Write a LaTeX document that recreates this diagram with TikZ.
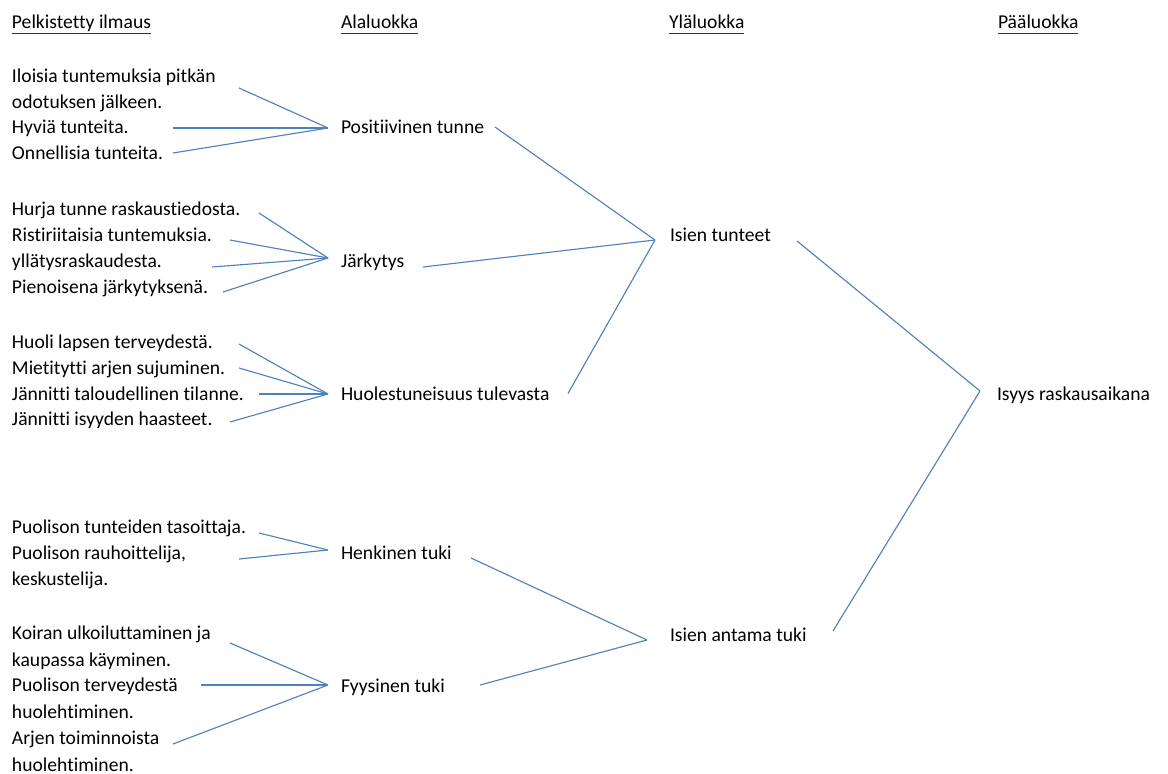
\documentclass[tikz,border=0pt]{standalone}
\usepackage{fontspec}
\setmainfont{Carlito}[Ligatures=NoCommon]
\definecolor{linkblue}{RGB}{79,129,189}
\begin{document}
\begin{tikzpicture}[x=0.75pt,y=-0.75pt,
  txt/.style={anchor=base west,inner sep=0pt,outer sep=0pt,align=left,
    font=\fontsize{14.7}{19.6}\selectfont},
  conn/.style={draw=linkblue,line width=0.85pt},
  uline/.style={draw=black!80,line width=0.9pt}]
\useasboundingbox (0,0) rectangle (1168,774);

% headers
\node[txt] (h1) at (12,29) {Pelkistetty ilmaus};
\node[txt] (h2) at (341,29) {Alaluokka};
\node[txt] (h3) at (669,29) {Yläluokka};
\node[txt] (h4) at (998,29) {Pääluokka};
\foreach \h in {h1,h2,h3,h4}
  \draw[uline] ([yshift=-3.2pt]\h.base west) -- ([yshift=-3.2pt]\h.base east);

% column 1 (multi-line nodes: base = baseline of the last line)
\node[txt] (a1) at (12,108.6) {Iloisia tuntemuksia pitkän\\odotuksen jälkeen.};
\node[txt] (a2) at (12,133.5) {Hyviä tunteita.};
\node[txt] (a3) at (12,159.5) {Onnellisia tunteita.};
\node[txt] (b1) at (12,215.5) {Hurja tunne raskaustiedosta.};
\node[txt] (b2) at (12,241.5) {Ristiriitaisia tuntemuksia.};
\node[txt] (b3) at (12,267.5) {yllätysraskaudesta.};
\node[txt] (b4) at (12,293) {Pienoisena järkytyksenä.};
\node[txt] (c1) at (12,348.5) {Huoli lapsen terveydestä.};
\node[txt] (c2) at (12,374.5) {Mietitytti arjen sujuminen.};
\node[txt] (c3) at (12,400) {Jännitti taloudellinen tilanne.};
\node[txt] (c4) at (12,425.5) {Jännitti isyyden haasteet.};
\node[txt] (d1) at (12,533) {Puolison tunteiden tasoittaja.};
\node[txt] (d2) at (12,585.6) {Puolison rauhoittelija,\\keskustelija.};
\node[txt] (e1) at (12,666.1) {Koiran ulkoiluttaminen ja\\kaupassa käyminen.};
\node[txt] (e2) at (12,718.1) {Puolison terveydestä\\huolehtiminen.};
\node[txt] (e3) at (12,771.1) {Arjen toiminnoista\\huolehtiminen.};

% column 2
\node[txt] (p1) at (341,133.5) {Positiivinen tunne};
\node[txt] (p2) at (341,267.5) {Järkytys};
\node[txt] (p3) at (341,400) {Huolestuneisuus tulevasta};
\node[txt] (p4) at (341,559.5) {Henkinen tuki};
\node[txt] (p5) at (341,692) {Fyysinen tuki};

% column 3
\node[txt] (i1) at (670,241) {Isien tunteet};
\node[txt] (i2) at (670,641) {Isien antama tuki};

% column 4
\node[txt] (m) at (997,400.5) {Isyys raskausaikana};

% connectors: column 1 -> column 2
\draw[conn] ([shift={(227,-20.6)}]a1.base west) -- ([shift={(-13,-5.5)}]p1.base west);
\draw[conn] ([shift={(161,-5.5)}]a2.base west) -- ([shift={(-13,-5.5)}]p1.base west);
\draw[conn] ([shift={(161,-6.5)}]a3.base west) -- ([shift={(-13,-5.5)}]p1.base west);

\draw[conn] ([shift={(247,-2.5)}]b1.base west) -- ([shift={(-13,-9.5)}]p2.base west);
\draw[conn] ([shift={(218,-1.5)}]b2.base west) -- ([shift={(-13,-9.5)}]p2.base west);
\draw[conn] ([shift={(200,-0.5)}]b3.base west) -- ([shift={(-13,-9.5)}]p2.base west);
\draw[conn] ([shift={(211,-1)}]b4.base west) -- ([shift={(-13,-9.5)}]p2.base west);

\draw[conn] ([shift={(227,-4.5)}]c1.base west) -- ([shift={(-13,-6)}]p3.base west);
\draw[conn] ([shift={(227,-6.5)}]c2.base west) -- ([shift={(-13,-6)}]p3.base west);
\draw[conn] ([shift={(247,-6)}]c3.base west) -- ([shift={(-13,-6)}]p3.base west);
\draw[conn] ([shift={(218,-3.5)}]c4.base west) -- ([shift={(-13,-6)}]p3.base west);

\draw[conn] ([shift={(247,0)}]d1.base west) -- ([shift={(-13,-9.5)}]p4.base west);
\draw[conn] ([shift={(227,-26.6)}]d2.base west) -- ([shift={(-13,-9.5)}]p4.base west);

\draw[conn] ([shift={(218,-23.1)}]e1.base west) -- ([shift={(-13,-7)}]p5.base west);
\draw[conn] ([shift={(189,-33.1)}]e2.base west) -- ([shift={(-13,-7)}]p5.base west);
\draw[conn] ([shift={(161,-27.1)}]e3.base west) -- ([shift={(-13,-7)}]p5.base west);

% column 2 -> column 3
\draw[conn] ([shift={(154,-6.5)}]p1.base west) -- ([shift={(-15,-1)}]i1.base west);
\draw[conn] ([shift={(82,-0.5)}]p2.base west) -- ([shift={(-15,-1)}]i1.base west);
\draw[conn] ([shift={(227,-6.5)}]p3.base west) -- ([shift={(-15,-1)}]i1.base west);
\draw[conn] ([shift={(130,-1.5)}]p4.base west) -- ([shift={(-23,-1)}]i2.base west);
\draw[conn] ([shift={(139,-7)}]p5.base west) -- ([shift={(-23,-1)}]i2.base west);

% column 3 -> column 4
\draw[conn] ([shift={(127,0)}]i1.base west) -- ([shift={(-17,-9.5)}]m.base west);
\draw[conn] ([shift={(163,-10)}]i2.base west) -- ([shift={(-17,-9.5)}]m.base west);
\end{tikzpicture}
\end{document}
